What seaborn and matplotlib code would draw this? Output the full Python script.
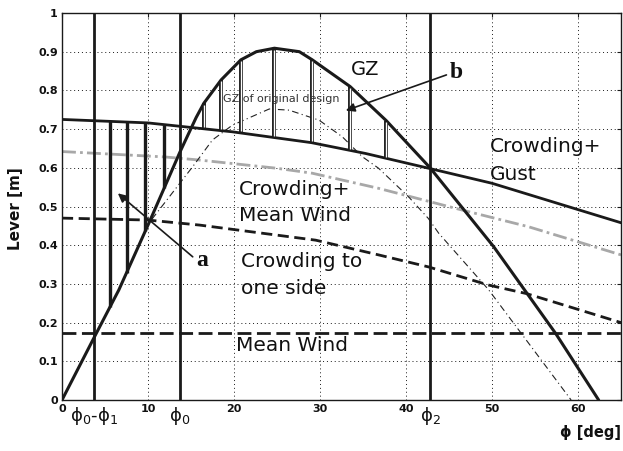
import numpy as np
import matplotlib
matplotlib.use("Agg")
import matplotlib.pyplot as plt
import matplotlib.transforms as mtransforms
import seaborn as sns

# ---- data ----
gz_deg = [0, 3.7, 6.6, 10.1, 13.7, 15.6, 16.5, 18.5, 20.8, 22.6, 24.7, 27.6, 29.1, 33.5, 37.7, 42.8, 50.2, 57.4, 62.4]
gz_val = [0, 0.16, 0.284, 0.457, 0.64, 0.73, 0.767, 0.827, 0.879, 0.90, 0.909, 0.90, 0.879, 0.81, 0.722, 0.60, 0.396, 0.172, 0.0]

gzorig_deg = [0, 3.7, 6.6, 10.1, 15.2, 17.5, 19.8, 24.1, 26.4, 29.9, 32.6, 34.9, 36.8, 40.3, 42.6, 43.8, 49.6, 59.2]
gzorig_val = [0, 0.16, 0.284, 0.457, 0.603, 0.672, 0.71, 0.752, 0.749, 0.723, 0.68, 0.629, 0.599, 0.525, 0.469, 0.431, 0.285, 0.0]

gust_deg = [0, 10, 19.8, 29, 35.3, 42.6, 50, 65]
gust_val = [0.725, 0.716, 0.693, 0.665, 0.637, 0.599, 0.56, 0.458]

meanw_crowd_deg = [0, 12, 16, 24.9, 29.1, 36.8, 46.5, 54.2, 65]
meanw_crowd_val = [0.642, 0.628, 0.62, 0.599, 0.586, 0.547, 0.491, 0.448, 0.375]

oneside_deg = [0, 10, 16, 29.5, 36.8, 42.6, 49.6, 54, 65]
oneside_val = [0.47, 0.465, 0.452, 0.413, 0.375, 0.344, 0.297, 0.275, 0.20]

meanwind_deg = [0, 65]
meanwind_val = [0.172, 0.172]

phi_lines = [3.7, 13.7, 42.8]
phi_labels = ["ϕ$_0$-ϕ$_1$", "ϕ$_0$", "ϕ$_2$"]

hatch_a = [5.6, 7.5, 9.7, 11.9]
hatch_b = [16.5, 18.5, 20.8, 24.7, 29.1, 33.5, 37.7]

x_ticks = [0, 10, 20, 30, 40, 50, 60]
y_ticks = [0, 0.1, 0.2, 0.3, 0.4, 0.5, 0.6, 0.7, 0.8, 0.9, 1.0]
y_ticklabels = ["0", "0.1", "0.2", "0.3", "0.4", "0.5", "0.6", "0.7", "0.8", "0.9", "1"]

# ---- style ----
sns.set_theme(style="white")
plt.rcParams["font.family"] = ["DejaVu Sans"]
plt.rcParams["mathtext.fontset"] = "dejavusans"
plt.rcParams["mathtext.default"] = "regular"

fig = plt.figure(figsize=(6.23, 4.51), dpi=100)
fig.patch.set_facecolor("white")
ax = fig.add_axes([62 / 623, 51 / 451, 559 / 623, 387 / 451])
ax.set_facecolor("white")

ax.set_xlim(0, 65)
ax.set_ylim(0, 1)
ax.set_xticks(x_ticks)
ax.set_xticklabels([str(t) for t in x_ticks], fontsize=8, fontweight="bold")
ax.set_yticks(y_ticks)
ax.set_yticklabels(y_ticklabels, fontsize=8, fontweight="bold")
ax.tick_params(direction="in", length=3, width=0.8, color="k", pad=3,
               top=True, right=True, labelcolor="#111111")
ax.grid(True, color="k", linestyle=(0, (1, 3)), linewidth=0.7)
ax.set_axisbelow(True)
for s in ax.spines.values():
    s.set_color("k")
    s.set_linewidth(1.0)

# ---- curves ----
sns.lineplot(x=meanw_crowd_deg, y=meanw_crowd_val, ax=ax, color="#a8a8a8", lw=2.0)
ax.lines[-1].set_dashes((5, 1.5, 1, 1.5))

sns.lineplot(x=gzorig_deg, y=gzorig_val, ax=ax, color="#222222", lw=0.8)
ax.lines[-1].set_dashes((6, 3, 1, 3))

sns.lineplot(x=oneside_deg, y=oneside_val, ax=ax, color="k", lw=2.0)
ax.lines[-1].set_dashes((4, 2))

sns.lineplot(x=meanwind_deg, y=meanwind_val, ax=ax, color="k", lw=2.0)
ax.lines[-1].set_dashes((5, 2))

sns.lineplot(x=gust_deg, y=gust_val, ax=ax, color="k", lw=2.0)
sns.lineplot(x=gz_deg, y=gz_val, ax=ax, color="k", lw=2.2)

# vertical phi lines
for xv in phi_lines:
    ax.axvline(xv, color="k", lw=2.0)

# hatching of area a (solid thick)
a_top = np.interp(hatch_a, gust_deg, gust_val)
a_bot = np.interp(hatch_a, gz_deg, gz_val)
ax.vlines(hatch_a, a_bot, a_top, color="k", lw=2.4)

# hatching of area b (double lines)
b_top = np.interp(hatch_b, gz_deg, gz_val)
b_bot = np.interp(hatch_b, gust_deg, gust_val)
ax.vlines(hatch_b, b_bot, b_top, color="k", lw=2.8)
ax.vlines(hatch_b, b_bot + 0.004, b_top - 0.004, color="white", lw=1.0)

# ---- texts ----
big = 14.5
ax.text(49.8, 0.655, "Crowding+", fontsize=big, va="center", ha="left", color="#111111")
ax.text(49.8, 0.583, "Gust", fontsize=big, va="center", ha="left", color="#111111")
ax.text(20.6, 0.545, "Crowding+", fontsize=big, va="center", ha="left", color="#111111")
ax.text(20.6, 0.478, "Mean Wind", fontsize=big, va="center", ha="left", color="#111111")
ax.text(20.8, 0.357, "Crowding to", fontsize=big, va="center", ha="left", color="#111111")
ax.text(20.8, 0.289, "one side", fontsize=big, va="center", ha="left", color="#111111")
ax.text(20.2, 0.142, "Mean Wind", fontsize=big, va="center", ha="left", color="#111111")
ax.text(33.6, 0.853, "GZ", fontsize=14, va="center", ha="left", color="#111111")
ax.text(18.7, 0.778, "GZ of original design", fontsize=8, va="center", ha="left", color="#333333")

ax.text(16.3, 0.36, "a", fontsize=17, family="Liberation Serif", fontweight="bold",
        va="center", ha="center", color="#111111")
ax.text(45.9, 0.846, "b", fontsize=17, family="Liberation Serif", fontweight="bold",
        va="center", ha="center", color="#111111")

arrow_kw = dict(arrowstyle="-|>", lw=1.2, color="k", mutation_scale=13, shrinkA=0, shrinkB=0)
ax.annotate("", xy=(6.5, 0.534), xytext=(15.2, 0.37), arrowprops=arrow_kw)
ax.annotate("", xy=(33.0, 0.748), xytext=(44.7, 0.84), arrowprops=arrow_kw)

# phi labels under the axis
trans = mtransforms.blended_transform_factory(ax.transData, ax.transAxes)
for xv, lab in zip(phi_lines, phi_labels):
    ax.text(xv, -0.013, lab, transform=trans, ha="center", va="top", fontsize=13, color="#111111")

ax.text(1.0, -0.085, "ϕ [deg]", transform=ax.transAxes, ha="right", va="center",
        fontsize=10.5, fontweight="bold", color="#111111")
fig.text(16 / 623, 0.537, "Lever [m]", rotation=90, ha="center", va="center",
         fontsize=11, fontweight="bold", color="#111111")

fig.savefig("out.png", dpi=100, facecolor="white")
